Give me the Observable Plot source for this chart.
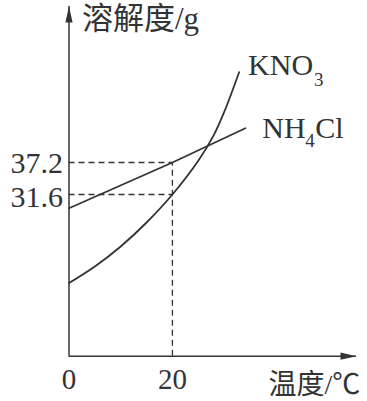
<!DOCTYPE html>
<html><head><meta charset="utf-8">
<script src="https://cdn.jsdelivr.net/npm/d3@7"></script>
<script src="https://cdn.jsdelivr.net/npm/@observablehq/plot@0.6"></script>
<style>body{margin:0;background:#fff}</style>
</head><body><div id="chart"></div>
<script>
// Data (schematic solubility curves)
const kno3Temp = [0, 5, 10, 15, 20, 25, 28, 30, 32.9];
const kno3Sol  = [16.1, 19.0, 22.5, 26.7, 31.6, 37.5, 42.0, 46.0, 53.0];
const nh4clTemp = [0, 20, 34.1];
const nh4clSol  = [29.2, 37.2, 43.2];
const xTicks = [0, 20];
const yTicks = [31.6, 37.2];
const guideTemp = 20;
const yTitle = "溶解度/g";
const xTitle = "温度/℃";

const kno3 = kno3Temp.map((t, i) => ({t, s: kno3Sol[i]}));
const nh4cl = nh4clTemp.map((t, i) => ({t, s: nh4clSol[i]}));
const kEnd = kno3[kno3.length - 1];
const nEnd = nh4cl[nh4cl.length - 1];

const xDomain = [0, 55.6];
const yDomain = [3.3, 64.5];
const ink = "#333";
const serif = "'Liberation Serif','Times New Roman','Noto Sans CJK SC',serif";
const cjk = "'Liberation Serif','Noto Sans CJK SC',sans-serif";
const arrowHead = {draw(ctx) { ctx.moveTo(0, 0); ctx.lineTo(-3.6, 16); ctx.lineTo(3.6, 16); ctx.closePath(); }};
const dash = "6,4";
const yLabelStyle = {x: 0, textAnchor: "end", lineAnchor: "middle", dx: -6, fontSize: 30, fontFamily: serif, fill: ink, text: d => d.toFixed(1)};

const chart = Plot.plot({
  width: 367, height: 401,
  marginLeft: 68.5, marginRight: 11, marginTop: 6, marginBottom: 45.3,
  x: {domain: xDomain},
  y: {domain: yDomain, axis: null},
  style: {background: "white", color: ink},
  marks: [
    Plot.ruleX([xDomain[0]], {stroke: ink, strokeWidth: 1.5}),
    Plot.ruleY([yDomain[0]], {stroke: ink, strokeWidth: 1.5}),
    Plot.dot([{x: xDomain[0], y: yDomain[1], r: 0}, {x: xDomain[1], y: yDomain[0], r: 90}],
      {x: "x", y: "y", rotate: "r", symbol: arrowHead, fill: ink, stroke: "none"}),
    Plot.ruleY(yTicks, {x1: 0, x2: guideTemp, stroke: ink, strokeWidth: 1.3, strokeDasharray: dash}),
    Plot.ruleX([guideTemp], {y1: yDomain[0], y2: d3.max(yTicks), stroke: ink, strokeWidth: 1.3, strokeDasharray: dash}),
    Plot.line(kno3, {x: "t", y: "s", curve: "catmull-rom", stroke: ink, strokeWidth: 1.8}),
    Plot.line(nh4cl, {x: "t", y: "s", stroke: ink, strokeWidth: 1.8}),
    Plot.axisX({ticks: xTicks, tickSize: 0, tickPadding: 12, fontSize: 29, fontFamily: serif, label: null}),
    Plot.text([d3.max(yTicks)], {...yLabelStyle, y: d => d, dy: 1}),
    Plot.text([d3.min(yTicks)], {...yLabelStyle, y: d => d, dy: 3}),
    Plot.text([yTitle], {frameAnchor: "top-left", text: d => d, textAnchor: "start", lineAnchor: "middle", dx: 13, dy: 13, fontSize: 31, fontFamily: cjk, fill: ink}),
    Plot.text([xTitle], {frameAnchor: "bottom-right", text: d => d, textAnchor: "start", lineAnchor: "middle", dx: -88, dy: 29, fontSize: 28, fontFamily: cjk, fill: ink}),
    Plot.text([kEnd], {x: "t", y: "s", text: () => "KNO", textAnchor: "start", lineAnchor: "bottom", dx: 9, dy: 3, fontSize: 30, fontFamily: serif, fill: ink}),
    Plot.text([kEnd], {x: "t", y: "s", text: () => "3", textAnchor: "start", lineAnchor: "bottom", dx: 75, dy: 14, fontSize: 19, fontFamily: serif, fill: ink}),
    Plot.text([nEnd], {x: "t", y: "s", text: () => "NH", textAnchor: "start", lineAnchor: "bottom", dx: 17, dy: 10, fontSize: 30, fontFamily: serif, fill: ink}),
    Plot.text([nEnd], {x: "t", y: "s", text: () => "4", textAnchor: "start", lineAnchor: "bottom", dx: 60, dy: 19, fontSize: 19, fontFamily: serif, fill: ink}),
    Plot.text([nEnd], {x: "t", y: "s", text: () => "Cl", textAnchor: "start", lineAnchor: "bottom", dx: 70, dy: 10, fontSize: 30, fontFamily: serif, fill: ink})
  ]
});
document.getElementById("chart").appendChild(chart);
</script>
</body></html>
